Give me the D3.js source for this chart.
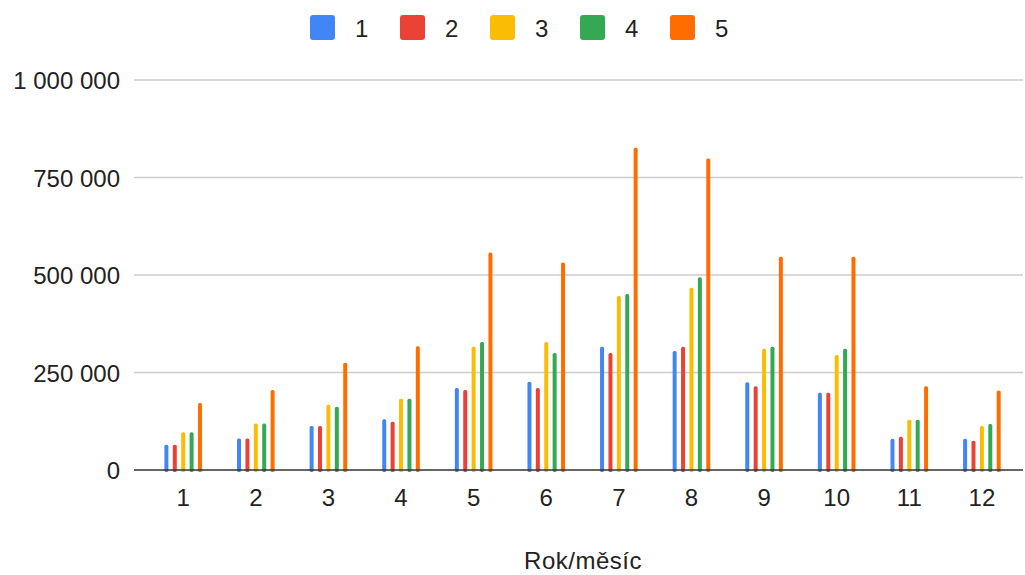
<!DOCTYPE html>
<html>
<head>
<meta charset="utf-8">
<script src="https://cdn.jsdelivr.net/npm/d3@7"></script>
<style>
  html, body { margin: 0; padding: 0; background: #ffffff; }
  svg { display: block; font-family: "Liberation Sans", Arial, sans-serif; }
</style>
</head>
<body>
<svg id="chart" width="1025" height="575"></svg>
<script>
// Months (x categories) and the five series
const months = ["1", "2", "3", "4", "5", "6", "7", "8", "9", "10", "11", "12"];
const seriesNames = ["1", "2", "3", "4", "5"];
const seriesColors = ["#4285F4", "#EA4335", "#FBBC04", "#34A853", "#FF6D01"];

const series1 = [65000, 81000, 113000, 130000, 210000, 226000, 316000, 305000, 225000, 198000, 80000, 80000];
const series2 = [65000, 81000, 113000, 124000, 205000, 210000, 300000, 316000, 215000, 198000, 85000, 75000];
const series3 = [97000, 119000, 167000, 183000, 316000, 328000, 446000, 467000, 311000, 295000, 129000, 113000];
const series4 = [97000, 119000, 162000, 183000, 328000, 300000, 451000, 494000, 316000, 311000, 129000, 118000];
const series5 = [172000, 205000, 275000, 317000, 558000, 532000, 826000, 799000, 547000, 547000, 215000, 204000];

const yTicks = [0, 250000, 500000, 750000, 1000000];
const axisTitle = "Rok/měsíc";

const allSeries = [series1, series2, series3, series4, series5];

const svg = d3.select("#chart");
const textColor = "#222222";

const x = d3.scaleBand().domain(months).range([146.9, 1018.2]).padding(0);
const y = d3.scaleLinear().domain([0, 1000000]).range([470, 80]);

const groupSpan = 37.6;
const xs = d3.scaleBand()
  .domain(seriesNames)
  .range([x.bandwidth() / 2 - groupSpan / 2, x.bandwidth() / 2 + groupSpan / 2])
  .paddingInner(0.524)
  .paddingOuter(0);

// Horizontal gridlines
const gridLeft = 134, gridRight = 1023;
svg.append("g")
  .selectAll("line")
  .data(yTicks.filter(d => d > 0))
  .join("line")
  .attr("x1", gridLeft)
  .attr("x2", gridRight)
  .attr("y1", d => y(d))
  .attr("y2", d => y(d))
  .attr("stroke", "#cccccc")
  .attr("stroke-width", 1.5);

// Y axis labels
const fmt = v => d3.format(",")(v).replace(/,/g, " ");
const yAxis = d3.axisLeft(y).tickValues(yTicks).tickFormat(fmt).tickSize(0).tickPadding(0);
const yg = svg.append("g").attr("transform", "translate(120,0)").call(yAxis);
yg.select(".domain").remove();
yg.selectAll("text")
  .attr("fill", textColor)
  .style("font-size", "24px")
  .attr("dy", "0.37em");

// Bars
const groups = svg.append("g")
  .selectAll("g")
  .data(months)
  .join("g")
  .attr("transform", d => `translate(${x(d)},0)`);

groups.selectAll("rect")
  .data((m, i) => seriesNames.map((s, k) => ({ s, k, v: allSeries[k][i] })))
  .join("rect")
  .attr("x", d => xs(d.s))
  .attr("width", xs.bandwidth())
  .attr("y", d => y(d.v))
  .attr("height", d => y(0) - y(d.v) + 2)
  .attr("rx", 1.6)
  .attr("fill", d => seriesColors[d.k]);

// Baseline
svg.append("line")
  .attr("x1", gridLeft)
  .attr("x2", gridRight)
  .attr("y1", y(0))
  .attr("y2", y(0))
  .attr("stroke", "#333333")
  .attr("stroke-width", 1.6);

// X axis labels
const xAxis = d3.axisBottom(x).tickSize(0).tickPadding(0);
const xg = svg.append("g").attr("transform", `translate(0,${y(0)})`).call(xAxis);
xg.select(".domain").remove();
xg.selectAll("text")
  .attr("fill", textColor)
  .style("font-size", "24px")
  .attr("y", 36)
  .attr("dy", 0);

// Axis title
svg.append("text")
  .attr("x", 583)
  .attr("y", 569)
  .attr("text-anchor", "middle")
  .attr("fill", textColor)
  .style("font-size", "24px")
  .style("letter-spacing", "0.5px")
  .text(axisTitle);

// Legend
const legend = svg.append("g")
  .selectAll("g")
  .data(seriesNames)
  .join("g")
  .attr("transform", (d, i) => `translate(${310 + i * 90},15)`);

legend.append("rect")
  .attr("width", 25)
  .attr("height", 25)
  .attr("rx", 3)
  .attr("fill", (d, i) => seriesColors[i]);

legend.append("text")
  .attr("x", 45)
  .attr("y", 21.5)
  .attr("fill", textColor)
  .style("font-size", "24px")
  .text(d => d);
</script>
</body>
</html>
